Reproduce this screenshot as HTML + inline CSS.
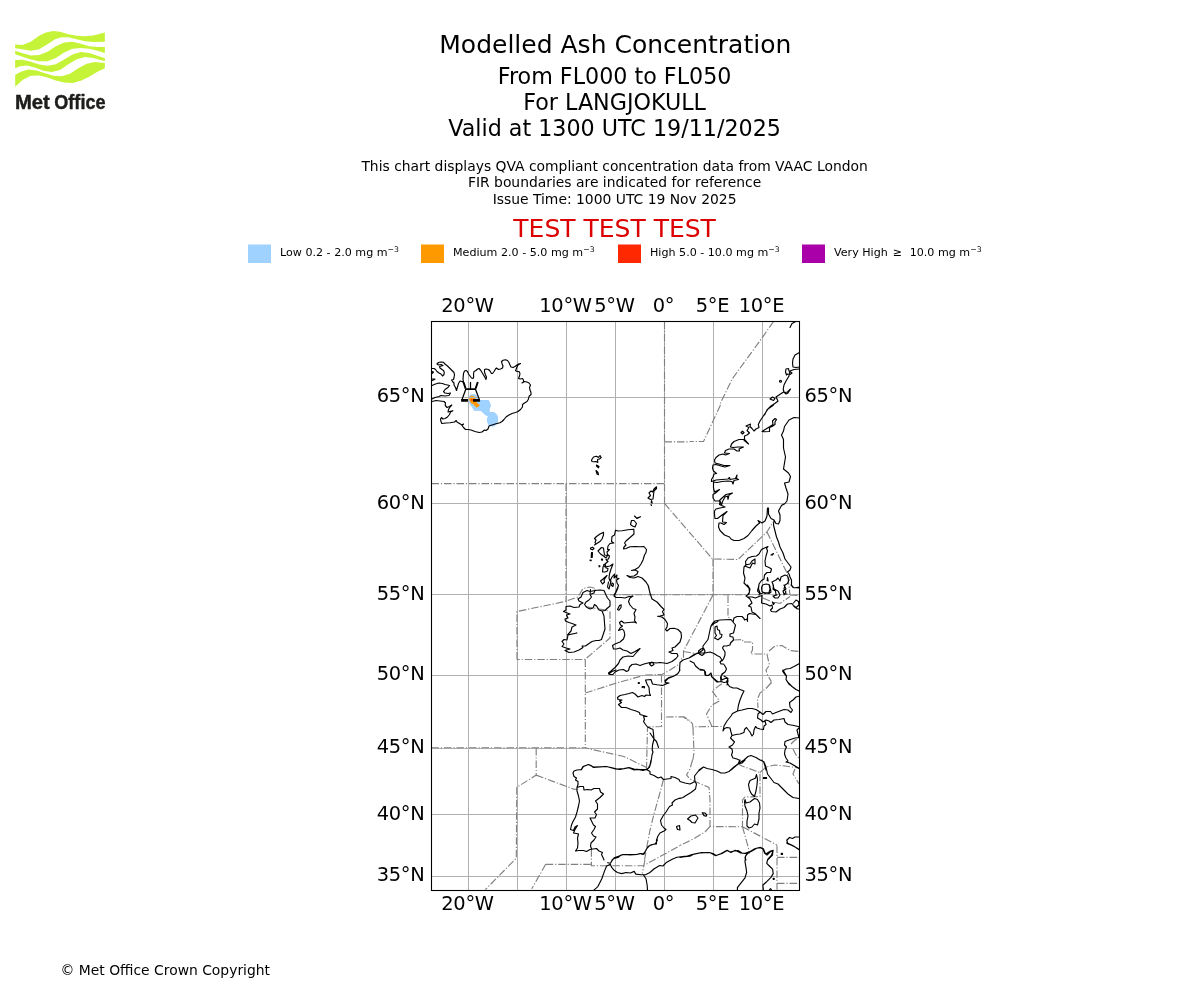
<!DOCTYPE html>
<html lang="en"><head><meta charset="utf-8"><title>Modelled Ash Concentration</title>
<style>
html,body{margin:0;padding:0;background:#fff}
body{width:1200px;height:1000px;overflow:hidden}
svg{display:block}
text{font-family:'DejaVu Sans','Liberation Sans',sans-serif;fill:#000}
.t1{font-size:25px}
.t2{font-size:22.22px}
.t3{font-size:13.89px}
.lg{font-size:11.11px}
.tk{font-size:19.44px;letter-spacing:-0.3px}
</style></head><body>
<svg width="1200" height="1000" viewBox="0 0 1200 1000">
<rect width="1200" height="1000" fill="#fff"/>
<!-- logo -->
<path d="M15.17 44.58L22.50 45.00L30.83 41.67L39.17 35.83L45.83 32.50L53.33 31.00L60.00 31.67L68.33 34.17L76.67 35.83L85.00 36.25L93.33 35.42L104.83 32.50L104.83 41.67L93.33 42.08L85.00 41.25L76.67 39.17L68.33 37.33L61.67 37.33L55.00 39.17L47.50 44.17L39.17 49.17L30.83 50.83L22.50 49.17L15.17 48.33Z M15.17 50.83L22.50 53.33L30.83 55.42L39.17 55.00L47.50 51.67L55.83 46.25L64.17 42.50L72.50 41.67L80.83 43.75L89.17 46.25L97.50 47.08L104.83 47.08L104.83 52.92L97.50 50.83L89.17 48.75L80.83 47.92L72.50 48.75L64.17 52.50L55.83 57.92L47.50 61.25L39.17 61.25L30.83 59.58L22.50 56.67L15.17 54.17Z M15.17 60.00L22.50 59.83L30.83 61.67L39.17 64.58L47.50 65.83L55.83 64.17L64.17 59.58L72.50 54.58L80.83 52.08L89.17 52.92L97.50 55.83L104.83 58.33L104.83 61.25L93.33 57.92L85.00 57.08L76.67 59.17L68.33 64.17L60.00 70.00L51.67 72.08L43.33 70.83L35.00 67.50L26.67 65.42L20.00 66.25L15.17 68.33Z M15.17 75.00L20.83 71.67L28.33 69.58L36.67 70.42L45.00 73.33L53.33 75.83L61.67 76.25L70.00 73.75L78.33 68.33L86.67 63.75L95.00 62.08L104.83 62.92L104.83 68.33L97.50 71.67L89.17 76.67L80.83 80.83L72.50 82.92L64.17 82.50L55.83 80.42L47.50 77.50L39.17 75.42L30.83 75.83L22.50 80.00L15.17 86.67Z" fill="#c5f337"/>
<text y="108.5" style="font-family:'Liberation Sans','DejaVu Sans',sans-serif;font-weight:bold;font-size:20px;fill:#1d1d1b;stroke:#1d1d1b;stroke-width:0.45px"><tspan x="14.9" textLength="35" lengthAdjust="spacingAndGlyphs">Met</tspan> <tspan x="54.3" textLength="51.2" lengthAdjust="spacingAndGlyphs">Office</tspan></text>
<!-- titles -->
<g text-anchor="middle">
<text class="t1" x="615.3" y="52.8">Modelled Ash Concentration</text>
<text class="t2" x="614.6" y="83.7">From FL000 to FL050</text>
<text class="t2" x="614.6" y="109.9">For LANGJOKULL</text>
<text class="t2" x="614.6" y="136.2">Valid at 1300 UTC 19/11/2025</text>
<text class="t3" x="614.6" y="170.6">This chart displays QVA compliant concentration data from VAAC London</text>
<text class="t3" x="614.6" y="187.1">FIR boundaries are indicated for reference</text>
<text class="t3" x="614.6" y="203.7">Issue Time: 1000 UTC 19 Nov 2025</text>
<text class="t1" x="614.6" y="236.6" style="fill:#dd0000">TEST TEST TEST</text>
</g>
<!-- legend -->
<rect x="248" y="244.5" width="23" height="18.5" fill="#a0d2ff"/>
<text class="lg" x="280" y="255.7">Low 0.2 - 2.0 mg m<tspan dy="-4" font-size="7.78">−3</tspan></text>
<rect x="421" y="244.5" width="23" height="18.5" fill="#ff9900"/>
<text class="lg" x="453" y="255.7">Medium 2.0 - 5.0 mg m<tspan dy="-4" font-size="7.78">−3</tspan></text>
<rect x="618" y="244.5" width="23" height="18.5" fill="#ff2800"/>
<text class="lg" x="650" y="255.7">High 5.0 - 10.0 mg m<tspan dy="-4" font-size="7.78">−3</tspan></text>
<rect x="802" y="244.5" width="23" height="18.5" fill="#aa00aa"/>
<text class="lg" x="834" y="255.7">Very High <tspan dx="1.5">≥</tspan><tspan dx="4"> 10.0 mg m</tspan><tspan dy="-4" font-size="7.78">−3</tspan></text>
<!-- map -->
<clipPath id="mc"><rect x="431.5" y="321.5" width="368.0" height="569.0"/></clipPath>
<g clip-path="url(#mc)" fill="none">
<polygon points="470.0,394.5 474.0,394.0 476.5,395.0 478.0,399.0 479.5,400.0 488.5,400.0 489.5,401.5 490.8,404.5 490.8,407.0 489.8,408.5 489.8,412.0 494.0,412.0 496.5,414.0 498.0,416.5 498.0,422.0 496.5,424.5 494.0,426.5 491.0,426.5 488.5,425.0 487.0,422.0 487.0,418.5 488.0,416.5 485.0,415.0 481.0,411.0 474.0,410.8 472.5,408.0 470.0,404.5 468.5,401.0 468.8,397.0" fill="#a0d2ff"/>
<polygon points="470.5,396.0 472.0,395.5 473.0,396.2 474.8,396.5 475.2,398.0 476.2,399.5 476.4,401.5 477.5,403.5 479.7,404.8 479.0,406.2 476.5,407.8 475.0,406.0 473.5,404.5 471.5,403.5 470.0,401.5 469.0,399.5 469.5,397.8" fill="#ff9900"/>
<polygon points="471.0,399.0 472.5,399.0 472.5,400.7 471.0,400.7" fill="#ff2800"/>
<path d="M468.5 321.5V890.5M517.5 321.5V890.5M566.5 321.5V890.5M615.5 321.5V890.5M664.5 321.5V890.5M713.5 321.5V890.5M762.5 321.5V890.5M431.5 397.5H799.5M431.5 503.5H799.5M431.5 594.5H799.5M431.5 675.5H799.5M431.5 748.5H799.5M431.5 814.5H799.5M431.5 876.5H799.5" stroke="#b0b0b0" stroke-width="1" shape-rendering="crispEdges"/>
<path d="M720.5 405.0L703.5 441.5L690.0 441.5 M664.5 503.4L712.5 559.0L738.0 559.5L767.0 532.0L773.0 522.0 M767.0 532.0L787.5 574.0L790.0 595.0 M713.0 559.0L713.0 595.0 M728.0 595.5L728.0 617.0L730.5 618.5 M733.5 640.0L742.5 639.5L743.0 642.0L752.5 642.0L752.5 650.0L750.5 654.0L767.0 654.0L768.0 659.0L769.5 665.0L766.0 670.0L767.0 674.0L771.0 681.0L771.0 685.0 M769.0 651.0L775.0 646.0L782.0 645.5L790.0 650.5L799.5 651.5 M763.0 598.0L770.0 601.0L780.0 603.5L790.0 596.5 M790.0 595.0L799.5 595.5 M517.0 659.5L517.0 611.5L565.0 601.5L578.0 597.0L583.0 588.5L590.0 587.0L595.5 588.5 M585.0 606.5L596.0 608.5L606.0 610.0L610.0 612.0L610.0 638.0L585.0 659.5L517.0 659.5 M566.0 483.5L566.0 601.5 M713.0 595.0L683.5 651.0L683.5 658.0L679.0 660.0 M683.5 651.5L695.0 653.5L700.0 653.0 M585.3 659.5L585.3 748.0 M585.3 693.0L615.0 683.5L645.0 675.0L662.0 674.5L670.0 670.0L678.0 665.0 M661.5 675.0L661.5 726.5L648.0 727.0L647.5 728.0L646.5 769.0 M431.5 747.7L585.3 747.7L590.0 749.0L624.0 756.5L646.5 767.5 M666.0 717.0L683.0 716.8L690.0 721.5 M680.0 716.8L684.0 716.8L690.0 721.0L692.5 724.0L693.0 728.0L695.0 726.8L712.0 726.5L723.5 726.5 M693.0 728.0L693.5 740.0L694.0 753.0L692.8 760.0 M712.0 726.5L709.0 720.0L706.5 714.0L712.0 705.0L719.5 701.0L712.0 691.0L720.0 685.0L723.0 683.0 M771.0 683.0L766.0 688.5L760.0 693.0L757.5 699.0L758.0 708.0 M791.0 744.0L795.0 740.0L798.0 739.0 M793.0 749.0L796.0 755.0L799.0 758.0 M692.5 760.0L690.0 769.0L686.5 775.0L690.0 779.0L695.0 781.5L709.0 787.5L710.0 800.0L710.0 826.5L742.5 826.8L742.5 800.0L745.0 797.0L760.0 796.5L760.0 772.5L742.0 766.0L739.0 764.5 M710.0 826.5L705.0 832.0L695.0 838.0L680.0 845.5 M742.5 826.8L777.0 845.0 M742.5 826.8L749.0 850.0L749.0 854.0 M760.0 772.5L766.0 767.0L775.0 765.0L785.0 766.0L799.0 768.0 M795.0 769.0L793.0 774.0L799.0 784.0 M663.5 779.5L658.5 798.0L654.0 814.0L650.0 830.0L647.0 846.0L644.5 860.0 M545.7 864.4L591.4 864.4 M591.4 849.2L591.4 865.7L643.4 865.7L680.0 845.6 M644.9 860.0L642.3 873.6 M777.0 845.4L777.0 889.8 M777.0 857.3L799.2 857.3 M777.0 883.3L799.2 883.3 M536.2 748.0L536.2 775.1L516.8 787.3L516.3 858.2L485.3 889.7 M536.2 775.1L573.7 789.1L577.2 789.4 M545.7 864.3L531.7 888.8 M431.5 483.6L664.5 483.6 M664.5 321.5L664.5 503.6 M664.5 441.9L690.0 441.9 M773.5 321.5L762.0 338.0L732.5 378.5L719.5 405.0 M610.0 594.7L747.0 594.7 M545.7 864.3L591.4 864.3" stroke="#808080" stroke-width="1.15" stroke-dasharray="7.5 1.9 1.2 1.9"/>
<path d="M432.0 401.5L436.0 400.5L440.0 401.0L444.0 401.5L445.5 403.0L445.2 405.5L447.0 407.5L449.5 406.5L451.8 405.0L450.0 407.0L448.5 409.5L448.0 412.0L450.5 411.2L453.0 410.8L450.5 412.0L449.5 414.5L447.5 417.0L445.0 418.5L442.8 419.0L441.5 417.5L440.5 419.0L440.8 421.0L441.8 423.5L446.0 423.0L450.0 422.8L454.5 422.0L456.2 420.5L457.0 422.0L459.5 423.5L462.0 425.0L463.5 424.0L462.0 425.5L463.5 427.5L465.5 429.5L468.0 429.5L471.0 430.0L475.0 431.5L479.0 432.5L482.0 432.0L484.5 430.0L486.0 430.5L488.0 429.0L489.0 426.0L492.0 425.0L496.0 423.8L500.0 422.8L502.0 421.5L504.0 419.5L506.0 417.0L509.0 415.0L512.0 413.5L515.5 412.5L518.0 411.5L520.5 409.5L522.5 407.0L522.5 404.5L524.5 403.0L527.0 401.5L528.5 399.0L529.0 396.5L531.0 394.5L531.0 392.5L530.0 390.0L529.5 387.5L530.5 385.0L529.0 383.0L527.0 382.0L524.5 381.5L522.0 383.0L523.5 382.0L523.5 380.0L522.5 378.5L520.0 379.0L518.5 378.5L519.5 376.0L520.0 373.5L519.0 371.5L517.0 371.5L515.5 370.5L516.0 369.5L517.0 367.0L518.0 365.0L520.5 363.5L518.5 364.0L517.0 365.0L515.0 366.5L513.0 367.5L511.0 367.0L510.0 365.0L509.0 362.5L507.5 360.5L505.5 359.7L503.0 360.3L501.5 361.5L502.0 363.5L503.0 366.0L502.5 368.0L500.5 369.0L498.5 369.5L496.5 368.0L495.5 369.0L494.0 371.5L492.5 373.5L491.5 373.5L490.0 371.0L488.5 369.5L486.0 369.0L484.5 369.5L484.5 372.0L485.5 375.0L486.5 377.0L486.0 379.5L485.0 377.5L483.5 375.0L482.0 372.5L480.5 370.0L479.0 368.5L477.5 369.0L476.0 370.5L474.0 371.5L473.5 374.0L473.7 377.0L473.0 378.5L471.5 378.0L470.0 376.0L468.5 374.0L467.5 371.5L466.0 370.5L464.5 371.0L463.5 373.5L463.0 379.0L463.5 382.5L462.0 381.5L460.0 381.0L458.5 383.5L457.5 387.0L456.5 390.5L455.5 387.5L454.0 385.0L454.0 383.0L452.5 381.5L451.5 380.0L453.5 379.5L454.0 377.5L454.5 375.0L454.0 372.5L452.0 370.5L450.0 368.5L447.5 366.0L445.0 364.0L443.5 362.3L441.0 362.0L438.5 362.5L437.0 364.0L438.5 365.0L441.0 364.5L443.0 365.5L441.5 366.0L439.5 366.5L440.0 368.0L442.0 369.5L443.5 370.5L444.3 372.5L444.0 374.5L442.5 376.0L441.0 374.0L439.0 373.0L437.0 371.5L435.5 369.5L434.0 368.5L432.0 368.5 M432.0 399.0L435.0 397.5L439.0 396.5L441.0 395.5L445.0 396.0L449.0 395.5L450.5 393.0L448.0 393.5L445.0 393.0L443.5 391.5L445.0 389.5L448.0 387.5L449.5 385.5L447.5 385.0L445.0 384.5L442.5 383.5L439.0 383.0L435.5 384.0L432.0 385.5 M432.0 371.5L433.5 372.0L432.0 373.5 M432.0 379.0L435.0 379.0L433.5 380.0L432.0 380.5 M591.5 460.0L593.5 457.0L596.5 456.2L598.5 457.5L600.0 455.5L601.2 457.5L599.5 459.0L597.5 459.5L597.8 462.5L596.0 461.5L594.0 461.8L592.0 461.5L591.5 460.0Z M596.5 465.0L599.0 466.5L598.5 467.8L596.5 466.0Z M596.0 470.5L598.0 472.5L598.5 474.8L597.0 474.0L596.0 470.5Z M656.5 486.8L654.0 489.0L652.5 492.0L651.0 491.0L649.0 493.0L650.5 495.5L648.0 498.0L650.5 499.5L653.0 499.0L653.5 495.0L654.0 491.0L656.5 488.5L656.5 486.8Z M651.5 500.5L652.2 503.0L651.2 502.8Z M651.0 504.5L651.5 505.5 M634.5 516.0L637.0 518.5L640.5 516.8L637.0 518.0 M631.5 520.5L634.0 520.5L636.5 523.5L635.0 527.0L632.5 526.0L630.5 524.5L631.5 520.5Z M790.0 327.5L792.0 323.5L795.0 322.0 M799.5 352.5L795.0 355.0L793.0 359.0L792.5 363.0L793.0 367.0L796.0 367.5L799.5 367.0 M799.5 369.0L794.0 369.5L790.0 371.0L789.0 376.0L786.0 381.0L784.0 385.0L783.2 389.0L784.0 392.0L786.0 394.0L788.0 393.0L790.5 389.0L787.5 392.0L785.0 392.5L783.5 392.0L776.0 397.0L778.0 401.0L775.5 403.0L771.0 406.0L767.0 410.0L764.5 415.0 M786.0 369.0L788.5 368.5L789.0 371.0L792.0 373.0L790.0 374.5L787.5 374.0L786.5 375.0L785.5 372.0L786.0 369.0Z M780.5 381.2 m-1 0 a1 1 0 1 0 2 0 a1 1 0 1 0 -2 0 M770.0 399.0L772.5 397.0L775.0 398.5L773.5 400.5L770.0 399.0Z M773.5 405.0L768.0 409.0L764.0 415.0L760.0 421.0L758.3 424.5L759.0 427.5L756.0 429.0L754.0 431.0L752.0 428.5L750.0 426.5L750.5 424.0L746.0 426.0L749.0 427.5L747.0 430.5L749.5 433.0L747.0 435.0L744.5 436.0L744.5 439.5L748.5 444.0L745.0 441.0L743.5 439.5L739.0 439.5L734.0 441.5L731.5 444.0L730.5 447.0L733.0 447.5L738.0 447.0L743.5 447.0L739.0 449.0L739.5 451.0L737.0 451.0L734.0 449.0L729.0 449.0L725.5 450.5L724.5 453.0L729.5 453.5L725.5 455.0L723.0 454.0L719.0 455.0L716.0 457.5L714.5 460.0L715.0 463.0L719.0 464.0L724.0 465.5L730.0 465.5L725.0 467.0L721.0 466.0L716.0 464.5L713.0 465.0L712.5 468.0L713.5 471.0L716.5 473.5L714.0 474.0L713.0 477.0L711.5 479.5L711.5 481.5L716.0 480.0L722.0 479.5L728.0 479.0L729.5 477.5L730.0 479.5L735.5 478.5L737.0 475.0L736.5 478.5L738.5 479.5L734.0 480.5L733.0 484.0L732.0 481.5L728.0 481.0L722.0 481.5L717.0 482.5L713.5 482.0L713.5 488.0L714.5 492.0L719.5 489.5L715.5 493.0L713.0 494.5L713.0 498.0L715.0 501.0L719.0 501.0L722.0 498.0L726.0 494.5L732.5 493.0L729.0 495.0L728.0 499.5L727.5 496.0L725.0 497.0L722.5 501.5L721.5 505.0 M762.0 431.5L766.0 429.0L770.0 426.5L773.0 424.5L772.5 421.0L775.0 418.5L776.5 419.5L775.0 422.0L775.0 424.5L772.0 426.5L769.5 427.5L769.5 431.5L764.0 431.8L762.0 431.5Z M741.0 432.5L742.5 431.2L744.0 432.5L742.5 434.0L741.0 432.5Z M799.5 418.0L794.0 417.5L789.0 420.0L784.5 426.5L783.5 431.0L781.5 435.0L783.5 439.5L783.5 448.0L785.5 457.0L784.5 463.0L783.5 469.0L788.5 473.0L790.5 476.5L789.0 482.0L784.5 483.0L786.0 488.0L788.0 494.0L787.0 501.0L784.5 504.0L782.0 505.0 M721.5 505.0L720.0 501.0L719.5 504.5L725.0 507.0L720.0 508.0L716.0 509.0L714.5 511.0L714.5 514.5L715.0 518.5L717.5 518.5L722.0 515.0L727.0 511.5L723.0 515.5L722.5 522.0L726.5 522.5L724.0 524.5L721.0 523.0L719.0 523.0L718.5 527.0L720.0 530.5L724.5 535.0L729.5 537.0L731.0 539.0L734.0 540.5L739.0 540.5L744.0 538.5L748.0 535.5L752.0 530.5L756.0 526.0L759.5 523.0L758.0 520.5L762.0 523.0L765.0 521.0L767.0 516.0L767.5 508.0L768.5 508.0L768.5 514.0L771.0 518.5L774.0 520.0L773.5 525.0L775.0 531.0L776.5 537.0L778.5 542.0L780.0 547.0L783.0 553.0L785.0 559.0L788.0 563.0L791.0 567.0L790.0 570.0L787.5 572.0L789.0 574.0L790.0 577.0L791.5 580.0L791.5 585.0L794.0 588.0L799.5 587.0 M782.0 505.0L785.0 503.5L781.5 505.5L778.5 511.0L780.0 515.0L780.0 520.5L778.5 524.0L776.0 523.5L774.0 520.0 M747.5 595.0L749.5 592.0L749.0 588.0L746.0 585.0L744.0 583.0L745.0 578.0L743.5 573.0L744.0 567.0L746.0 565.0L745.5 561.5L748.0 558.0L752.0 556.5L756.5 556.0L759.0 554.0L761.5 549.5L764.5 548.0L768.0 546.5L766.5 548.0L767.5 551.0L766.0 556.0L765.0 561.0L765.5 566.0L769.0 567.5L771.5 569.0L770.5 572.5L767.0 572.5L764.5 575.0L764.0 579.0L761.5 580.5L759.0 584.0L758.5 589.0L760.0 593.0L759.0 595.0 M745.5 565.0L750.0 564.0L752.0 561.0L755.0 559.0L755.0 564.0L752.5 563.0L750.0 568.0L746.0 566.5 M771.0 555.0L773.5 553.5L772.5 555.0L771.0 555.0Z M767.5 577.5L768.2 581.0L767.2 580.5Z M762.5 585.0L766.0 584.0L769.0 584.5L770.0 589.0L769.0 592.5L765.0 593.5L762.0 591.5L761.5 588.0L762.5 585.0Z M772.0 582.0L776.0 580.0L778.0 578.0L780.0 581.0L781.0 577.0L785.0 575.0L787.5 576.0L789.0 580.0L787.5 583.5L785.0 585.0L784.0 589.0L786.0 592.0L784.0 595.0 M772.0 582.0L773.5 585.5L773.0 589.0L775.5 591.0L776.0 595.0 M690.0 657.5L696.0 654.0L700.0 652.0L703.0 650.0L703.0 646.0L708.0 639.5L710.0 630.0L711.0 626.0L712.5 623.5L715.0 621.0L720.0 620.0L725.0 619.8L731.0 619.5L733.0 622.0L734.0 618.0L737.0 616.5L742.0 616.5L744.0 618.5L744.5 620.0L747.0 619.0L747.5 621.5L747.5 615.0L749.5 613.5L752.5 614.0L756.0 614.5L760.0 618.5L755.0 613.5L752.0 612.0L751.0 607.0L748.5 606.0L752.0 603.0L750.0 599.0L747.5 597.0L746.0 596.0L749.0 594.0L750.0 589.0L747.5 585.0 M715.0 627.0L717.0 626.0L717.5 629.5L719.5 630.5L720.0 634.0L722.0 634.5L721.5 637.0L718.0 639.8L714.5 638.0L716.5 635.5L715.0 633.0L715.0 627.0Z M711.0 626.0L714.0 623.5L718.0 621.5 M698.5 651.0L701.0 649.0L703.5 648.0L705.0 651.0L704.0 654.0L702.0 655.5L699.5 654.0L698.5 651.0Z M733.0 622.0L735.5 625.0L734.5 629.0L733.5 633.0L730.0 634.0L730.0 636.5L733.0 637.0L733.5 640.0L730.5 643.0L730.0 645.0L726.5 646.0L723.5 646.0L722.5 648.0L725.0 652.0L725.0 655.0L723.5 659.0L722.0 661.0 M700.0 653.0L705.0 653.0L710.0 652.0L714.0 653.5L717.0 655.5L720.0 657.0L722.0 660.0L720.0 662.0L721.0 664.0L723.5 664.0L725.0 666.0L726.5 669.0L725.0 672.0L722.0 674.0L721.0 677.0L722.0 680.0L725.0 678.5L727.5 678.5L728.0 681.0L727.0 685.0 M690.0 661.0L694.0 663.0L695.5 666.0L699.0 669.0L704.0 670.0L705.5 672.0L705.5 675.5L708.5 675.5L711.0 673.0L711.5 676.5L714.0 679.0L717.0 682.0L721.0 681.5 M747.5 597.0L752.0 597.0L755.5 598.0L759.0 596.5L762.0 595.5L761.5 603.0L766.0 604.0L770.0 606.0L772.0 605.0L772.5 608.0L770.5 610.0L771.5 611.5L776.0 612.0L780.0 609.0L784.0 607.5L787.5 604.0L792.0 603.5L794.0 606.5L797.5 609.0L799.5 609.0 M793.5 603.0L796.0 600.0L798.5 601.5L799.0 605.0L796.0 607.5L794.0 606.0 M772.5 602.5L774.5 603.0L773.5 604.5L772.5 602.5Z M759.0 585.0L757.5 591.0L760.0 594.0L764.0 592.5L769.0 593.5L771.0 592.0L770.0 587.0L769.5 585.0 M773.0 585.0L774.0 589.0L778.0 591.0L780.0 595.0L778.0 598.0L775.0 598.0L773.0 596.0L777.0 595.0 M784.0 585.0L786.0 589.0L783.0 591.0L784.0 594.0L787.0 594.0 M791.0 585.0L793.0 587.5L799.5 588.0 M799.5 663.5L794.0 666.5L790.0 668.5L786.0 669.0L782.5 671.0L784.5 674.0L786.5 676.5L786.0 679.5L788.5 683.5L790.0 685.0 M650.5 595.0L649.5 591.0L648.5 586.0L646.0 582.0L642.0 578.0L638.0 576.5L634.0 578.0L630.0 577.5L627.0 575.5L630.0 576.5L634.0 576.0L637.0 574.0L638.0 571.5L635.0 570.0L631.5 570.5L635.0 569.5L638.5 567.5L641.0 564.0L643.0 560.0L644.5 555.0L646.0 552.5L646.5 549.5L644.0 546.5L640.0 546.8L635.0 546.5L630.0 546.8L626.0 548.5L623.5 549.0L624.0 547.0L626.0 545.0L624.5 543.0L626.0 541.0L630.0 537.5L634.0 534.0L633.8 529.2L628.0 529.8L622.0 530.8L618.0 531.0L615.5 530.2L614.5 535.0L612.0 536.5L611.5 541.5L613.8 543.0L610.0 543.5L608.0 546.0L607.5 549.5L609.5 549.5L607.0 552.0L607.5 554.5L609.5 556.0L608.5 559.0L606.0 559.5L608.0 561.5L605.0 564.0L603.5 565.0L605.0 567.0L610.0 566.0L613.0 564.0L611.0 569.0L609.5 574.0L609.0 578.0L610.0 581.0L612.0 577.0L614.5 574.0L614.0 578.0L617.0 575.0L616.5 578.0L619.0 578.5L616.5 580.0L617.0 583.0L618.5 585.5L617.0 589.0L615.5 592.5L614.0 595.0 M598.0 551.0L601.5 547.5L603.5 548.0L604.0 552.0L604.5 555.0L607.5 555.5L606.0 558.0L603.5 556.0L600.5 554.0L598.0 551.0Z M603.5 532.2L600.0 534.0L596.5 536.5L594.5 538.5L596.0 540.0L595.0 542.5L596.0 544.0L600.0 541.5L602.0 539.0L603.5 535.0L603.5 532.2Z M596.0 544.0L594.5 545.0 M590.5 548.0L592.5 547.2L594.0 548.5L592.5 549.8L590.5 549.0L590.5 548.0Z M591.5 552.5L592.5 552.5L592.2 557.5L591.2 557.5L591.5 552.5Z M590.0 560.0L591.2 560.0L591.0 560.8L590.0 560.5Z M604.5 564.5L603.0 567.0L602.5 572.0L605.0 572.0L607.5 571.0L608.0 568.5L606.0 568.0L605.5 565.0L604.5 564.5Z M601.5 559.0L602.5 559.0L602.5 560.2L601.5 560.0Z M599.0 565.5L600.0 566.2L599.2 566.8Z M600.5 581.0L603.0 579.0L607.0 575.5L604.0 580.0L604.5 582.0L602.5 584.0L600.5 581.0Z M608.5 582.0L607.5 587.0L609.0 589.0L610.0 585.0L611.0 581.0 M612.0 583.0L613.5 584.0L613.0 586.5L611.5 585.5L612.0 583.0Z M566.0 606.5L570.0 606.0L574.0 607.5L579.0 607.0L580.0 604.5L583.0 603.0L579.0 601.0L578.0 599.0L581.0 597.0L583.0 592.5L587.0 590.5L590.0 591.5L595.0 590.5L600.0 590.0L604.0 590.5L606.0 595.0L607.5 598.0L610.0 601.0L610.0 606.0L607.0 608.5L605.0 610.5L602.0 611.0L604.0 616.0L604.5 623.0L605.0 629.0L603.0 635.0L601.5 639.5L599.0 640.5L596.0 640.5L592.0 641.5L589.0 643.5L585.5 646.0L582.0 646.0L583.0 647.5L579.0 650.0L574.0 652.0L569.0 652.5L565.0 650.5L570.0 649.0L566.0 648.0L562.0 646.5L564.0 644.0L562.0 641.5L564.0 639.5L567.0 640.0L568.0 635.0L572.0 634.0L577.0 633.0L570.0 634.5L567.5 635.0L571.0 631.0L572.0 627.0L576.0 625.0L572.0 623.5L569.0 622.5L565.5 621.0L565.0 619.0L568.0 618.0L566.5 615.0L570.0 614.0L566.0 612.5L563.5 611.5L566.0 610.0L566.0 606.5Z M590.5 589.5L590.0 594.5L594.0 593.0L595.0 590.0 M590.0 594.5L591.5 597.0L589.0 600.0L586.0 602.0L584.5 604.5L587.0 607.5L590.0 609.0L593.0 608.0L594.5 604.5L596.5 606.0L599.0 610.0L602.0 611.0 M648.0 585.0L650.0 593.0L652.0 599.0L657.0 602.0L661.0 606.5L664.0 609.5L662.5 611.5L664.0 615.0L660.0 616.0L657.5 616.2L662.0 617.0L665.0 619.5L667.5 623.5L667.0 627.0L665.5 629.5L667.0 631.0L670.0 628.5L674.0 628.2L678.0 629.5L681.0 632.5L681.5 637.0L680.0 642.0L677.0 645.0L675.0 647.0L672.0 648.0L673.0 650.5L669.0 652.0L672.0 653.5L677.0 653.5L678.0 656.0L676.0 658.5L672.0 661.5L667.0 663.5L664.0 663.0L660.0 662.5L656.0 663.0L653.0 662.5L650.0 662.5L644.0 664.0L640.0 665.5L636.0 664.0L632.0 664.5L629.5 667.0L628.5 670.5L626.5 671.5L623.5 669.5L619.0 670.0L615.0 672.0L613.0 674.5L610.0 674.5L608.5 673.0L611.0 671.0L615.0 667.5L618.5 663.5L620.0 660.0L623.0 657.0L628.0 656.0L633.0 656.5L636.0 653.0L640.0 648.5L635.0 651.5L631.0 653.5L627.0 651.0L623.0 650.0L620.0 648.0L616.5 649.0L613.5 649.0L612.5 645.5L615.0 644.0L620.0 642.0L623.5 639.0L624.8 635.0L624.0 631.0L622.5 629.0L618.5 630.5L620.0 628.0L622.5 626.0L620.5 625.0L619.5 622.5L621.5 621.0L624.0 623.0L629.0 622.5L634.0 622.0L636.5 623.0L634.5 620.5L635.0 617.0L634.0 613.5L636.0 609.5L633.0 608.5L630.0 605.0L628.5 601.5L630.0 598.0L633.0 596.0L629.0 596.5L625.0 598.0L621.0 597.5L616.0 597.5L614.0 596.0L615.0 594.5L617.5 589.0L618.5 585.0 M649.5 664.0L652.0 662.0L654.0 664.5L651.5 666.0L649.5 664.0Z M617.5 609.5L619.5 605.5L621.2 604.8L621.0 607.5L619.0 610.2L617.5 609.5Z M700.0 653.0L695.0 654.0L689.0 658.0L683.0 660.0L680.0 662.5L679.5 671.0L677.5 674.0L673.0 676.5L668.0 678.5L665.5 681.0L666.0 683.5 M638.5 682.8L639.2 683.5 M680.0 670.0L678.0 673.5L674.0 676.0L669.0 677.5L665.0 680.5L665.5 682.5L669.0 683.0L666.0 684.0L662.5 685.5L657.0 684.8L652.5 684.0L651.0 679.5L645.5 680.0L647.0 684.0L649.0 687.5L649.5 693.0L650.5 695.5L646.0 695.0L644.5 696.5L642.0 695.5L638.0 697.0L635.0 694.0L632.5 692.5L629.0 693.5L625.0 694.5L620.0 695.5L617.5 697.5L618.0 699.5L622.0 700.0L619.5 701.0L621.5 702.5L618.5 704.5L621.5 707.5L626.0 707.5L631.0 709.5L636.0 711.0L639.5 712.5L640.0 714.5L643.5 715.5L647.0 716.5L643.5 716.5L644.5 719.5L643.5 721.5L645.5 724.5L647.5 727.0L653.0 729.5L653.5 734.0L654.0 739.0L652.5 745.0L652.2 750.0L653.0 752.0L652.0 755.0L651.0 762.0L649.5 767.0L647.0 769.5 M650.0 733.0L652.0 736.0L654.0 739.0L656.5 741.5L658.5 747.5 M638.3 682.5L639.3 682.5L639.3 683.5L638.3 683.5Z M642.2 686.5L644.5 686.5L644.5 687.8L642.2 687.5Z M608.5 674.0L612.0 671.5L616.0 670.0 M581.0 770.0L583.0 766.5L588.5 764.5L593.5 767.0L600.0 766.8L606.0 766.5L611.0 767.5L617.0 769.0L624.0 768.5L629.0 767.5L634.0 769.0L640.0 769.5L647.0 769.5 M700.0 670.0L704.5 670.5L705.0 675.0L708.5 675.5L711.0 673.0L712.0 677.0L715.0 679.5L718.0 682.0L721.0 681.5L724.0 682.5L726.5 682.0 M721.0 681.5L720.5 677.0L723.0 673.5L725.0 672.0 M724.0 676.0L728.0 678.5L726.5 682.0 M726.5 682.0L729.5 686.5L733.0 688.0L737.0 688.0L740.0 689.5L744.0 691.0L742.0 695.0L740.0 700.0L738.5 705.0L737.5 711.0 M737.5 711.0L742.0 710.0L748.0 708.5L752.0 708.5L756.0 709.5L760.0 712.0L758.0 714.0L757.5 718.0L761.0 720.0L763.0 722.0L765.0 721.0L766.0 724.5L764.0 726.0L763.5 729.5L760.0 729.0L757.0 728.0L755.5 726.5L754.0 730.0L753.5 734.0L752.0 736.0L750.0 732.0L748.0 729.5L746.5 727.5L744.5 729.5L744.0 732.5L740.0 734.0L736.0 734.5L732.0 735.5L731.0 732.0L730.0 728.0L727.0 727.5L724.5 728.5L723.0 731.0L724.0 726.0L727.0 721.0L731.0 716.0L732.5 713.5L737.5 711.0Z M732.0 735.5L730.5 738.0L732.5 740.0L734.5 742.0L732.5 745.0L729.0 747.0L732.0 749.0L732.5 752.0L731.5 755.0L733.0 758.0L737.0 759.0L740.0 760.5L738.5 764.0L736.0 765.5L731.0 770.0 M760.0 712.0L763.0 714.5L766.0 711.5L770.5 711.5L772.5 714.0L776.0 712.5L780.0 711.0L784.0 709.5L788.0 710.0L791.0 712.5L792.5 710.0L790.0 707.0L789.5 702.5L793.0 700.0L796.0 697.0L800.0 696.0 M763.0 722.0L766.0 720.0L769.0 721.0L771.0 722.5L774.0 720.0L779.0 719.5L784.0 718.5L785.0 722.0L788.0 724.5L794.0 725.5L800.0 727.0 M783.0 670.0L785.0 673.5L786.5 676.0L786.0 679.5L788.5 683.0L792.0 686.5L796.0 689.5L800.0 691.5 M731.0 770.0L738.0 764.0L744.0 760.0L748.0 756.5L751.0 755.5L756.0 757.5L760.0 760.0L763.5 761.5L765.0 766.0L766.0 770.0 M800.0 737.5L795.0 738.0L789.0 740.0L785.0 741.5L784.5 745.0L786.5 747.0L785.0 750.0L784.5 754.0L786.0 758.0L788.0 761.0L786.0 762.0L790.0 763.0L796.0 766.5L800.0 769.0 M800.0 727.0L797.0 730.0L798.0 734.0L799.0 737.5 M699.0 770.0L703.5 767.0L707.0 768.5L712.0 769.5 M680.0 781.5L685.0 783.0L690.0 784.0L695.0 781.5L694.5 776.0L698.5 771.0L703.5 767.0L707.0 768.5L712.0 769.5L717.0 771.0L721.0 773.0L725.0 773.0L729.0 771.5L734.0 767.0L738.0 764.0L742.0 763.0L745.0 760.0 M738.0 764.0L740.0 760.0 M695.0 781.5L696.5 784.0L695.5 789.0L691.0 792.5L686.0 795.5L683.0 797.5L680.0 798.5 M687.5 819.0L691.0 816.0L695.5 815.0L698.0 818.0L695.0 823.0L692.0 822.5L690.0 820.5L687.5 819.0Z M702.2 812.8L705.0 813.0L706.8 814.8L706.2 816.2L704.0 815.6L702.2 812.8Z M756.5 774.5L757.5 779.0L757.0 785.0L756.0 791.0L754.5 796.5L751.5 794.0L749.5 790.0L748.5 784.5L750.0 780.5L753.5 779.0L755.5 778.0L756.5 774.5Z M745.0 799.5L746.0 803.0L750.0 802.0L754.5 798.5L757.5 799.5L759.5 803.0L760.0 808.0L759.0 813.0L759.0 819.0L757.5 825.0L754.5 824.0L752.0 827.0L749.0 828.0L747.0 826.0L747.0 821.0L748.0 816.0L747.0 811.0L745.0 806.0L744.5 802.0L745.0 799.5Z M761.0 760.0L764.0 762.0L766.0 767.0L767.5 774.0L769.0 776.0L774.0 782.5L778.0 784.0L783.0 789.0L788.0 794.0L793.0 797.5L799.0 798.5 M763.5 777.5L766.5 777.5L766.5 778.5L763.5 778.5Z M786.0 762.0L790.0 763.0L799.0 768.5 M800.0 837.0L795.0 837.0L792.5 838.5L789.5 837.5L787.0 840.0L787.0 843.5L791.0 845.0L795.0 847.0L800.0 850.0 M781.5 853.5L782.5 853.5L782.5 854.5L781.5 854.5Z M680.0 857.5L686.0 856.5L692.0 854.5L700.0 853.0L709.0 852.5L713.0 853.5L716.0 855.5L722.0 853.5L727.0 850.5L730.0 852.0L734.0 851.0L738.0 850.5L742.0 853.0L747.0 853.5L752.0 851.0L757.0 848.0L761.0 848.0L763.0 849.0L764.5 853.0L767.0 855.0L770.0 852.0L773.0 850.5L772.5 855.0L769.0 858.5L767.5 860.0 M747.0 853.5L745.0 857.5L746.0 860.0 M573.0 773.0L574.0 771.0L577.0 770.0L581.5 769.5L583.5 766.5L588.5 764.5L591.0 765.5L593.5 767.5L600.0 767.0L606.5 766.5L612.0 768.0L615.5 769.0L620.0 769.5L625.0 768.5L629.0 767.8L634.0 770.0L638.0 769.5L643.0 770.5L646.5 769.5L648.5 768.0L650.0 765.0L651.0 760.0 M646.5 769.5L650.0 771.5L650.0 774.0L654.0 775.5L658.0 778.0L661.0 777.0L663.5 779.5L667.0 779.0L671.0 778.5L671.0 776.5L675.0 777.5L679.0 779.5L680.0 781.5 M573.0 773.0L574.0 776.5L576.5 778.0L575.5 780.0L578.0 781.5L578.0 784.5L577.0 787.5L577.0 791.0L578.5 796.0L579.5 801.0L578.5 806.0L577.0 812.0L575.5 817.0L573.0 821.5L571.5 825.0L570.5 829.5L573.5 830.5L575.0 827.0L577.5 825.5L575.0 829.5L573.5 833.0L576.5 833.5L578.5 834.0L577.5 838.0L578.0 843.0L577.5 848.0L575.5 851.0L579.0 850.5L583.5 850.5L586.5 851.5L590.0 849.5L593.0 849.0L596.5 848.5L599.0 851.0L602.5 852.5L601.5 854.5L603.0 857.5L604.0 860.0 M577.0 787.5L580.0 786.5L583.5 786.5L584.0 790.0L588.0 789.5L591.0 790.0L594.0 788.5L599.5 788.5L600.5 792.0L603.5 794.0L600.0 797.5L595.5 801.0L597.5 804.0L597.5 809.0L594.5 812.0L596.5 814.5L595.0 818.0L590.0 818.0L592.0 822.0L593.5 825.0L595.5 826.5L594.0 829.5L591.5 833.0L593.5 836.0L596.0 837.0L594.0 840.0L591.0 843.0L590.5 846.0L591.5 849.0 M680.0 798.0L675.0 800.0L672.0 803.0L672.5 805.0L669.5 806.5L666.0 812.0L663.0 816.0L660.5 820.5L661.5 825.0L664.0 828.0L666.0 829.5L664.0 831.0L660.0 833.0L658.0 836.0L656.5 840.0L656.5 844.0L652.0 844.5L648.0 846.5L645.5 851.0L643.0 854.5L640.0 853.5L637.0 854.5L630.0 855.0L625.0 854.5L621.0 855.0L618.0 857.5L614.0 858.5L612.0 860.0 M676.5 826.5L679.5 825.5L680.0 830.0L677.5 829.5L676.5 826.5Z M607.7 862.7L610.4 863.3L612.0 860.6L614.2 857.9L618.5 856.2L622.8 854.6L629.3 854.6L635.8 854.6L641.2 853.5L644.0 854.1L646.7 848.7L649.9 845.4L655.3 843.8L657.5 840.0 M593.6 890.4L597.9 886.6L601.7 879.0L604.4 871.4L606.6 866.0L610.4 864.4L611.5 867.1L614.2 870.3L617.4 872.5L621.7 873.6L626.1 872.5L630.4 873.0L634.2 871.4L635.8 874.1L641.2 874.7L645.6 874.7L649.9 872.5L654.2 868.7L659.7 865.5L662.9 866.0L666.7 862.2L672.7 859.0L677.0 857.3L684.6 856.2L690.0 856.2 M643.4 874.7L646.1 879.0L647.2 885.5L647.5 890.4 M680.0 857.3L689.7 856.2L694.1 854.1L701.7 852.5L710.3 852.8L715.7 855.7L721.2 853.5L727.1 850.3L730.9 852.5L735.2 850.3L740.7 853.0L745.0 853.5L749.3 851.9L754.7 848.7L760.2 847.4L763.4 848.7L765.6 854.1L769.9 851.4L773.2 850.3L771.5 855.2L767.7 859.5L766.7 863.3L769.9 866.5L772.6 869.2L773.2 873.6L771.0 877.4L766.7 881.7L762.9 885.0L763.4 890.4 M748.8 852.1L745.5 856.2L745.0 861.7L746.1 868.2L746.6 872.5L745.0 877.9L740.7 883.3L737.4 887.7L737.4 890.4 M786.7 840.0L787.8 843.2L792.7 845.4L799.2 849.7 M781.3 853.3L782.4 853.3L782.4 854.4L781.3 854.4Z M773.2 878.2L774.2 878.2L774.2 879.3L773.2 879.3Z M769.4 889.8L770.5 888.7L771.5 889.8" stroke="#000" stroke-width="1.15" stroke-linejoin="round" stroke-linecap="round"/>
<!-- volcano symbol -->
<g stroke="#000" stroke-linecap="butt">
<path d="M465.8 389.2L461.6 400.6M475.5 389.2L479.7 400.6" stroke-width="1.3"/>
<path d="M465.3 389.1H476" stroke-width="1.75"/>
<path d="M461.2 400.4H468M473 400.4H479.9" stroke-width="2.7"/>
<path d="M463.6 382.4L465.6 388.6M477.8 382L475.6 388.6" stroke-width="1.9"/>
<path d="M470.5 382V389" stroke-width="1.25"/>
</g>
</g>
<rect x="431.5" y="321.5" width="368.0" height="569.0" fill="none" stroke="#000" stroke-width="1.1"/>
<g class="tk">
<text x="467.5" y="312" text-anchor="middle">20°W</text>
<text x="467.5" y="910.2" text-anchor="middle">20°W</text>
<text x="565.5" y="312" text-anchor="middle">10°W</text>
<text x="565.5" y="910.2" text-anchor="middle">10°W</text>
<text x="614.5" y="312" text-anchor="middle">5°W</text>
<text x="614.5" y="910.2" text-anchor="middle">5°W</text>
<text x="663.5" y="312" text-anchor="middle">0°</text>
<text x="663.5" y="910.2" text-anchor="middle">0°</text>
<text x="712.5" y="312" text-anchor="middle">5°E</text>
<text x="712.5" y="910.2" text-anchor="middle">5°E</text>
<text x="761.5" y="312" text-anchor="middle">10°E</text>
<text x="761.5" y="910.2" text-anchor="middle">10°E</text>
<text x="424.5" y="402.0" text-anchor="end">65°N</text>
<text x="804.4" y="402.0">65°N</text>
<text x="424.5" y="508.5" text-anchor="end">60°N</text>
<text x="804.4" y="508.5">60°N</text>
<text x="424.5" y="599.8" text-anchor="end">55°N</text>
<text x="804.4" y="599.8">55°N</text>
<text x="424.5" y="680.4" text-anchor="end">50°N</text>
<text x="804.4" y="680.4">50°N</text>
<text x="424.5" y="753.0" text-anchor="end">45°N</text>
<text x="804.4" y="753.0">45°N</text>
<text x="424.5" y="819.6" text-anchor="end">40°N</text>
<text x="804.4" y="819.6">40°N</text>
<text x="424.5" y="881.4" text-anchor="end">35°N</text>
<text x="804.4" y="881.4">35°N</text>
</g>
<text class="t3" x="60.5" y="975">© Met Office Crown Copyright</text>
</svg>
</body></html>
